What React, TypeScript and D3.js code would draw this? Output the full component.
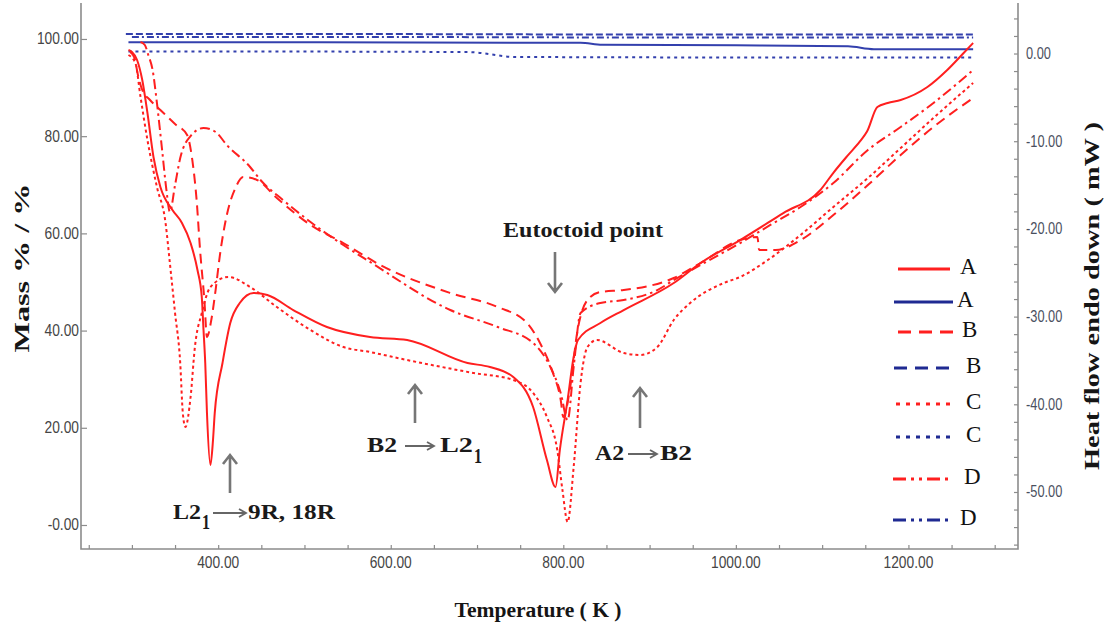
import React, { useEffect, useRef } from "react";
import * as d3 from "d3";

const W = 1109;
const H = 636;

// DSC curves (red), temperature in K and heat flow in mW
const tempA = [296, 300, 306, 312, 318, 325, 333, 347, 358, 368, 376, 381, 383, 385, 387, 391, 394, 396, 405, 414, 425, 441, 457, 487, 526, 576, 619, 689, 715, 742, 765, 781, 791, 796, 805, 812, 817, 843, 870, 928, 959, 1005, 1055, 1098, 1113, 1129, 1144, 1152, 1164, 1176, 1191, 1222, 1245, 1264, 1275];
const heatA = [0.4, 0.17, -0.74, -3.02, -6.78, -11.8, -15.22, -17.84, -19.32, -21.61, -24.69, -27.77, -31.53, -35.29, -41.0, -46.92, -44.07, -41.0, -35.29, -30.73, -28.45, -27.31, -27.54, -29.25, -31.19, -32.33, -32.67, -35.29, -35.75, -36.89, -40.31, -46.35, -49.43, -45.21, -39.51, -34.61, -32.67, -30.73, -29.25, -26.17, -23.89, -21.27, -18.19, -15.56, -13.6, -11.7, -10.0, -8.9, -6.1, -5.64, -5.3, -3.82, -1.88, 0.06, 1.2];

const tempB = [298, 303, 307, 312, 321, 333, 350, 364, 370, 375, 379, 384, 387, 392, 397, 402, 410, 420, 429, 445, 468, 507, 545, 588, 669, 724, 758, 773, 788, 797, 800, 808, 816, 828, 843, 870, 928, 959, 1005, 1025, 1027, 1046, 1075, 1113, 1153, 1191, 1229, 1275];
const heatB = [0.17, -0.51, -2.45, -4.16, -5.3, -6.44, -8.04, -9.29, -12.14, -16.7, -22.41, -28.11, -32.33, -30.39, -26.97, -22.98, -18.42, -15.34, -14.08, -14.42, -16.48, -19.55, -21.61, -24.12, -27.31, -28.91, -30.73, -33.01, -36.43, -39.51, -41.45, -38.03, -31.87, -28.11, -27.2, -26.97, -25.6, -23.89, -21.27, -20.92, -22.41, -22.41, -21.27, -18.42, -15.0, -11.57, -8.38, -5.07];

const tempC = [296, 304, 310, 318, 329, 339, 344, 350, 356, 359, 362, 368, 373, 381, 391, 412, 437, 468, 507, 545, 576, 619, 696, 742, 765, 781, 793, 799, 805, 812, 820, 828, 839, 870, 889, 909, 928, 947, 986, 1005, 1037, 1075, 1113, 1153, 1191, 1229, 1275];
const heatC = [-0.17, -1.08, -4.96, -9.86, -15.22, -19.32, -23.89, -29.59, -35.29, -41.0, -42.59, -39.17, -33.47, -29.59, -26.63, -25.48, -26.63, -28.91, -31.53, -33.47, -34.04, -34.95, -36.43, -37.23, -38.71, -41.45, -45.21, -49.77, -53.42, -47.15, -37.57, -33.47, -32.67, -34.15, -34.38, -33.47, -30.39, -28.45, -26.17, -25.48, -23.55, -20.69, -17.5, -14.2, -10.78, -7.35, -3.36];

const tempD = [310, 315, 319, 324, 329, 335, 340, 344, 350, 356, 368, 383, 397, 410, 437, 449, 475, 507, 545, 576, 669, 724, 765, 785, 797, 805, 812, 820, 843, 870, 909, 928, 959, 1005, 1040, 1075, 1113, 1153, 1191, 1229, 1275];
const heatD = [1.31, 0.97, -0.17, -1.88, -5.64, -11.0, -15.56, -18.07, -15.0, -11.92, -9.41, -8.49, -8.95, -10.43, -12.94, -14.42, -16.7, -19.21, -21.84, -23.77, -29.25, -31.19, -33.01, -35.75, -38.71, -41.8, -35.75, -29.59, -28.45, -28.11, -26.97, -25.83, -24.12, -21.61, -19.55, -17.5, -14.77, -11.0, -8.38, -5.64, -1.88];

// TG curves (blue), mass %
const massTempA = [296, 500, 820, 845, 1000, 1130, 1160, 1275];
const massA = [99.3, 99.3, 99.2, 98.8, 98.7, 98.5, 97.9, 97.9];
const massTempB = [293, 600, 900, 1275];
const massB = [101.0, 101.0, 100.9, 100.9];
const massTempC = [296, 500, 690, 745, 1000, 1275];
const massC = [97.4, 97.4, 97.3, 96.3, 96.2, 96.2];
const massTempD = [300, 600, 900, 1275];
const massD = [100.4, 100.4, 100.3, 100.3];

const xTicks = [400, 600, 800, 1000, 1200];
const xTickLabels = ["400.00", "600.00", "800.00", "1000.00", "1200.00"];
const massTicks = [0, 20, 40, 60, 80, 100];
const massTickLabels = ["-0.00", "20.00", "40.00", "60.00", "80.00", "100.00"];
const heatTicks = [0, -10, -20, -30, -40, -50];
const heatTickLabels = ["0.00", "-10.00", "-20.00", "-30.00", "-40.00", "-50.00"];
const legendLabels = ["A", "A", "B", "B", "C", "C", "D", "D"];

const RED = "#ff1f1f";
const BLUE = "#3340ad";
const LEGEND_BLUE = "#1f2a92";
const GRAY = "#8c8c8c";

const App = () => {
  const svgRef = useRef<SVGSVGElement>(null);

  useEffect(() => {
    const svg = d3.select(svgRef.current);
    svg.selectAll("*").remove();

    const x = d3.scaleLinear().domain([241, 1327]).range([81, 1018]);
    const yMass = d3.scaleLinear().domain([-4.94, 107.4]).range([549, 3]);
    const yHeat = d3.scaleLinear().domain([-56.5, 5.76]).range([549, 3]);
    const [x0, x1] = x.range();
    const [yb, yt] = yMass.range();

    const squeeze = (sel: any, k: number) =>
      sel.each(function (this: SVGTextElement) {
        const w = this.getComputedTextLength();
        this.setAttribute("textLength", String(w * k));
        this.setAttribute("lengthAdjust", "spacingAndGlyphs");
      });

    const tickFont = (sel: any) =>
      sel
        .attr("fill", "#454545")
        .style("font-family", "'Liberation Sans', Arial, sans-serif")
        .style("font-size", "16px");

    // bottom axis
    const gx = svg.append("g").attr("transform", `translate(0,${yb})`);
    gx.call(
      d3.axisBottom(x).tickValues(d3.range(250, 1301, 50)).tickSize(-4).tickSizeOuter(0).tickFormat(() => "")
    );
    gx.select(".domain").remove();
    gx.selectAll("line").attr("stroke", GRAY).attr("stroke-width", 1.2);
    const xl = svg
      .append("g")
      .selectAll("text")
      .data(xTicks)
      .join("text")
      .attr("x", (d) => x(d))
      .attr("y", yb + 19)
      .attr("text-anchor", "middle")
      .text((d, i) => xTickLabels[i]);
    tickFont(xl);
    squeeze(xl, 0.86);

    // left axis (mass)
    const gl = svg.append("g").attr("transform", `translate(${x0},0)`);
    gl.call(d3.axisLeft(yMass).tickValues(massTicks).tickSize(-6).tickSizeOuter(0).tickFormat(() => ""));
    gl.select(".domain").remove();
    gl.selectAll("line").attr("stroke", GRAY).attr("stroke-width", 1.2);
    const ml = svg
      .append("g")
      .selectAll("text")
      .data(massTicks)
      .join("text")
      .attr("x", x0 - 2)
      .attr("y", (d) => yMass(d) + 5.5)
      .attr("text-anchor", "end")
      .text((d, i) => massTickLabels[i]);
    tickFont(ml);
    squeeze(ml, 0.86);

    // right axis (heat flow)
    const gr = svg.append("g").attr("transform", `translate(${x1},0)`);
    gr.call(d3.axisRight(yHeat).tickValues(d3.range(-56, 5, 2)).tickSize(-4).tickSizeOuter(0).tickFormat(() => ""));
    gr.select(".domain").remove();
    gr.selectAll("line").attr("stroke", GRAY).attr("stroke-width", 1.2);
    const hl = svg
      .append("g")
      .selectAll("text")
      .data(heatTicks)
      .join("text")
      .attr("x", x1 + 8)
      .attr("y", (d) => yHeat(d) + 5.5)
      .text((d, i) => heatTickLabels[i]);
    tickFont(hl);
    hl.attr("fill", "#4a4f5e");
    squeeze(hl, 0.8);

    // frame lines
    svg
      .append("path")
      .attr("d", `M${x0},${yt}V${yb}H${x1}V${yt}`)
      .attr("fill", "none")
      .attr("stroke", GRAY)
      .attr("stroke-width", 1.6);

    // curves
    const heatLine = d3
      .line<[number, number]>()
      .x((d) => x(d[0]))
      .y((d) => yHeat(d[1]))
      .curve(d3.curveMonotoneX);
    const massLine = d3
      .line<[number, number]>()
      .x((d) => x(d[0]))
      .y((d) => yMass(d[1]))
      .curve(d3.curveMonotoneX);

    const zip = (a: number[], b: number[]) => a.map((t, i) => [t, b[i]] as [number, number]);

    const blueSeries = [
      { pts: zip(massTempB, massB), dash: "7,3" },
      { pts: zip(massTempD, massD), dash: "7,3,2,3" },
      { pts: zip(massTempA, massA), dash: null },
      { pts: zip(massTempC, massC), dash: "3,4" },
    ];
    blueSeries.forEach((s) => {
      svg
        .append("path")
        .attr("d", massLine(s.pts))
        .attr("fill", "none")
        .attr("stroke", BLUE)
        .attr("stroke-width", 2)
        .attr("stroke-dasharray", s.dash);
    });

    const redSeries = [
      { pts: zip(tempD, heatD), dash: "10,4,2.5,4" },
      { pts: zip(tempB, heatB), dash: "10,6" },
      { pts: zip(tempC, heatC), dash: "3,3" },
      { pts: zip(tempA, heatA), dash: null },
    ];
    redSeries.forEach((s) => {
      svg
        .append("path")
        .attr("d", heatLine(s.pts))
        .attr("fill", "none")
        .attr("stroke", RED)
        .attr("stroke-width", 2)
        .attr("stroke-linejoin", "round")
        .attr("stroke-dasharray", s.dash);
    });

    // legend
    const legendRows = [
      { y: 269, x1: 898, x2: 950, tx: 960, color: RED, dash: null },
      { y: 302, x1: 894, x2: 953, tx: 957, color: LEGEND_BLUE, dash: null },
      { y: 332, x1: 898, x2: 957, tx: 962, color: RED, dash: "13,8" },
      { y: 368, x1: 894, x2: 955, tx: 966, color: LEGEND_BLUE, dash: "13,8" },
      { y: 404, x1: 896, x2: 955, tx: 966, color: RED, dash: "4,6" },
      { y: 437, x1: 896, x2: 955, tx: 966, color: LEGEND_BLUE, dash: "4,6" },
      { y: 479, x1: 893, x2: 950, tx: 964, color: RED, dash: "13,5,3,5,3,5" },
      { y: 520, x1: 893, x2: 953, tx: 960, color: LEGEND_BLUE, dash: "13,5,3,5,3,5" },
    ];
    const lg = svg.append("g");
    legendRows.forEach((r, i) => {
      lg.append("line")
        .attr("x1", r.x1)
        .attr("x2", r.x2)
        .attr("y1", r.y)
        .attr("y2", r.y)
        .attr("stroke", r.color)
        .attr("stroke-width", 3.2)
        .attr("stroke-dasharray", r.dash);
      lg.append("text")
        .attr("x", r.tx)
        .attr("y", r.y + 5)
        .attr("fill", "#111")
        .style("font-family", "'Liberation Serif', 'Times New Roman', serif")
        .style("font-size", "23px")
        .text(legendLabels[i]);
    });

    // axis titles
    const title = (sel: any) =>
      sel
        .attr("fill", "#151515")
        .attr("text-anchor", "middle")
        .attr("lengthAdjust", "spacingAndGlyphs")
        .style("font-family", "'Liberation Serif', 'Times New Roman', serif")
        .style("font-weight", "bold")
        .style("font-size", "20px");

    title(
      svg
        .append("text")
        .attr("transform", "translate(29,268) rotate(-90)")
        .attr("textLength", 169)
        .text("Mass % / %")
    );
    title(
      svg
        .append("text")
        .attr("transform", "translate(1099,296) rotate(-90)")
        .attr("textLength", 348)
        .text("Heat flow endo down ( mW )")
    );
    title(
      svg
        .append("text")
        .attr("x", 538)
        .attr("y", 617)
        .attr("textLength", 167)
        .style("font-size", "25px")
        .text("Temperature ( K )")
    );

    // annotations
    const ann = svg.append("g");
    const annText = (xx: number, yy: number, s: string, len?: number) => {
      const t = ann
        .append("text")
        .attr("x", xx)
        .attr("y", yy)
        .attr("fill", "#1a1a1a")
        .style("font-family", "'Liberation Serif', 'Times New Roman', serif")
        .style("font-weight", "bold")
        .style("font-size", "21px")
        .text(s);
      if (len) t.attr("textLength", len).attr("lengthAdjust", "spacingAndGlyphs");
      return t;
    };
    const vArrow = (xx: number, tip: number, tail: number) => {
      const dir = tail > tip ? 1 : -1;
      ann
        .append("path")
        .attr("d", `M${xx},${tail}V${tip}M${xx - 7},${tip + dir * 9}L${xx},${tip}L${xx + 7},${tip + dir * 9}`)
        .attr("fill", "none")
        .attr("stroke", "#767676")
        .attr("stroke-width", 2.6);
    };
    const hArrow = (xa: number, xb: number, yy: number) => {
      ann
        .append("path")
        .attr("d", `M${xa},${yy}H${xb}M${xb - 7},${yy - 4}L${xb},${yy}L${xb - 7},${yy + 4}`)
        .attr("fill", "none")
        .attr("stroke", "#666")
        .attr("stroke-width", 1.8);
    };

    annText(503, 237, "Eutoctoid point", 160);
    vArrow(555, 292, 252);

    annText(367, 452, "B2", 30);
    hArrow(405, 434, 446);
    annText(440, 452, "L2", 33);
    annText(474, 463, "1", 8);
    vArrow(415, 385, 423);

    annText(595, 460, "A2", 29);
    hArrow(628, 657, 454);
    annText(660, 460, "B2", 32);
    vArrow(640, 388, 428);

    annText(173, 519, "L2", 28);
    annText(202, 529, "1", 8);
    hArrow(213, 246, 513);
    annText(248, 519, "9R, 18R", 87);
    vArrow(230, 455, 493);
  }, []);

  return (
    <svg
      ref={svgRef}
      width={W}
      height={H}
      style={{ position: "absolute", left: 0, top: 0, display: "block", background: "#fff" }}
    />
  );
};

export default App;
